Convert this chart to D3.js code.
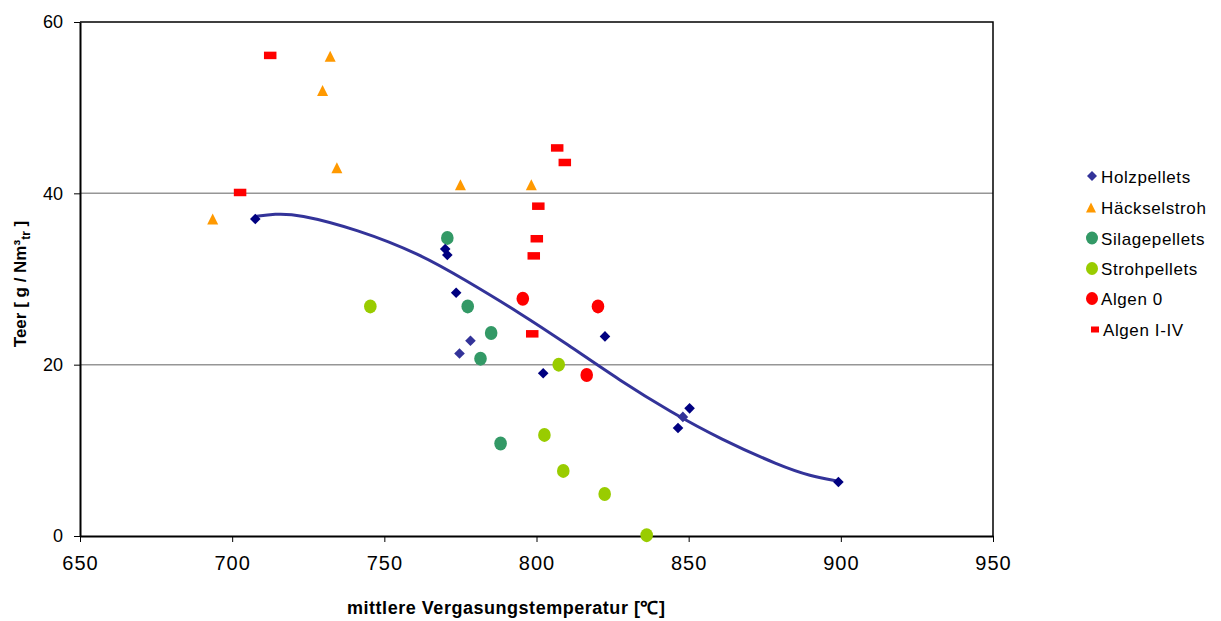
<!DOCTYPE html>
<html>
<head>
<meta charset="utf-8">
<script src="https://cdn.jsdelivr.net/npm/d3@7"></script>
<style>
  html, body { margin: 0; padding: 0; background: #fff; }
  svg { display: block; font-family: "Liberation Sans", Arial, sans-serif; }
</style>
</head>
<body>
<svg id="chart" width="1221" height="621"></svg>
<script>
// Mean gasification temperature [°C] vs. tar content [g/Nm³tr]
const holzpellets = [
  [707.6, 37.0], [770.0, 33.5], [770.7, 32.8], [773.6, 28.4],
  [802.2, 19.0], [822.5, 23.3], [850.3, 14.9], [846.5, 12.6], [899.2, 6.3]
];
const holzpelletsHell = [
  [778.3, 22.8], [774.7, 21.3], [848.1, 13.9]
];
const haeckselstroh = [
  [693.6, 37.0], [732.2, 56.0], [729.7, 52.0], [734.4, 43.0], [775.0, 41.0], [798.3, 41.0]
];
const silagepellets = [
  [770.7, 34.8], [777.4, 26.8], [785.1, 23.7], [781.6, 20.7], [788.2, 10.8]
];
const strohpellets = [
  [745.4, 26.8], [807.3, 20.0], [802.6, 11.8], [808.8, 7.6], [822.4, 4.9], [836.2, 0.1]
];
const algen0 = [
  [795.5, 27.7], [820.2, 26.8], [816.5, 18.8]
];
const algenIIV = [
  [712.5, 56.1], [702.6, 40.1], [806.8, 45.3], [809.3, 43.6], [800.6, 38.5],
  [800.1, 34.7], [799.1, 32.7], [798.6, 23.6]
];
// trendline (polynomial) for Holzpellets, sampled along its course
const trendHolz = [
  [707.6, 37.3], [714.0, 37.6], [721.4, 37.6], [741.1, 35.8], [761.8, 32.9], [776.0, 30.0],
  [794.7, 26.0], [810.0, 22.4], [827.6, 18.1], [844.0, 14.5], [860.5, 11.3],
  [880.0, 8.2], [890.0, 7.0], [899.0, 6.4]
];
const xTicks = [650, 700, 750, 800, 850, 900, 950];
const yTicks = [0, 20, 40, 60];
const legendNames = ["Holzpellets", "Häckselstroh", "Silagepellets", "Strohpellets", "Algen 0", "Algen I-IV"];

const svg = d3.select("#chart");
const x = d3.scaleLinear().domain([650, 950]).range([80, 993]);
const y = d3.scaleLinear().domain([0, 60]).range([536, 22]);

// gridlines
svg.append("g").selectAll("line").data([20, 40]).join("line")
  .attr("x1", x(650)).attr("x2", x(950))
  .attr("y1", d => y(d)).attr("y2", d => y(d))
  .attr("stroke", "#969696").attr("stroke-width", 1.5);

// plot frame (top and right)
svg.append("path")
  .attr("d", `M${x(650)},${y(60)}H${x(950)}V${y(0)}`)
  .attr("fill", "none").attr("stroke", "#000").attr("stroke-width", 1.5);

// axes
const xAxis = svg.append("g").attr("transform", `translate(0,${y(0)})`)
  .call(d3.axisBottom(x).tickValues(xTicks).tickSize(6).tickSizeOuter(0).tickPadding(14));
xAxis.select(".domain").attr("stroke-width", 2);
xAxis.selectAll(".tick line").attr("stroke", "#000").attr("stroke-width", 1);
xAxis.selectAll("text").attr("font-size", 20).attr("fill", "#000")
  .attr("font-family", "Liberation Sans, Arial, sans-serif").style("letter-spacing", "1px");

const yAxis = svg.append("g").attr("transform", `translate(${x(650)},0)`)
  .call(d3.axisLeft(y).tickValues(yTicks).tickSize(6).tickSizeOuter(0).tickPadding(11));
yAxis.select(".domain").attr("stroke-width", 2);
yAxis.selectAll(".tick line").attr("stroke", "#000").attr("stroke-width", 1);
yAxis.selectAll("text").attr("font-size", 18).attr("fill", "#000")
  .attr("font-family", "Liberation Sans, Arial, sans-serif");

// axis titles
svg.append("text").attr("x", 506).attr("y", 614).attr("text-anchor", "middle")
  .attr("font-size", 18).attr("font-weight", "bold").attr("textLength", 318)
  .text("mittlere Vergasungstemperatur [℃]");

const yt = svg.append("text").attr("transform", "translate(26,284) rotate(-90)")
  .attr("text-anchor", "middle").attr("font-size", 17).attr("font-weight", "bold");
yt.append("tspan").text("Teer [ g / Nm³");
yt.append("tspan").attr("font-size", 12).attr("dy", 4).text("tr");
yt.append("tspan").attr("dy", -4).text(" ]");

// trendline
svg.append("path").datum(trendHolz)
  .attr("d", d3.line().x(d => x(d[0])).y(d => y(d[1])).curve(d3.curveBasis))
  .attr("fill", "none").attr("stroke", "#333399").attr("stroke-width", 3);

// marker shapes
function diamond(g, cx, cy, r, color) {
  g.append("path").attr("d", `M${cx},${cy - r}L${cx + r},${cy}L${cx},${cy + r}L${cx - r},${cy}Z`).attr("fill", color);
}
function triangle(g, cx, cy, s, color) {
  const h = s;
  g.append("path").attr("d", `M${cx},${cy - h / 2}L${cx + s / 2},${cy + h / 2}L${cx - s / 2},${cy + h / 2}Z`).attr("fill", color);
}
function ellipse(g, cx, cy, rx, ry, color) {
  g.append("ellipse").attr("cx", cx).attr("cy", cy).attr("rx", rx).attr("ry", ry).attr("fill", color);
}
function rect(g, cx, cy, w, h, color) {
  g.append("rect").attr("x", cx - w / 2).attr("y", cy - h / 2).attr("width", w).attr("height", h).attr("fill", color);
}

const colors = {
  holz: "#000080", holzHell: "#333399", haeck: "#FF9900", silage: "#339966",
  stroh: "#99CC00", algen0: "#FF0000", algen: "#FF0000"
};

const marks = svg.append("g");
silagepellets.forEach(d => ellipse(marks, x(d[0]), y(d[1]), 6.3, 7, colors.silage));
strohpellets.forEach(d => ellipse(marks, x(d[0]), y(d[1]), 6.3, 7, colors.stroh));
algen0.forEach(d => ellipse(marks, x(d[0]), y(d[1]), 6.3, 7, colors.algen0));
algenIIV.forEach(d => rect(marks, x(d[0]), y(d[1]), 12.5, 7.5, colors.algen));
haeckselstroh.forEach(d => triangle(marks, x(d[0]), y(d[1]), 11, colors.haeck));
holzpellets.forEach(d => diamond(marks, x(d[0]), y(d[1]), 5.3, colors.holz));
holzpelletsHell.forEach(d => diamond(marks, x(d[0]), y(d[1]), 5.3, colors.holzHell));

// legend
const lg = svg.append("g");
const rowY = [176, 207.5, 238, 268.5, 298.5, 329.5];
legendNames.forEach((name, i) => {
  const cy = rowY[i];
  if (i === 0) diamond(lg, 1092, cy, 5, colors.holzHell);
  if (i === 1) triangle(lg, 1091, cy, 10, colors.haeck);
  if (i === 2) ellipse(lg, 1092, cy, 6, 6.5, colors.silage);
  if (i === 3) ellipse(lg, 1092, cy, 6, 6.5, colors.stroh);
  if (i === 4) ellipse(lg, 1092, cy, 6, 6.5, colors.algen0);
  if (i === 5) rect(lg, 1095, cy, 8, 6, colors.algen);
  lg.append("text").attr("x", i === 5 ? 1103 : 1101).attr("y", cy + 6.5)
    .attr("font-size", 17).style("letter-spacing", "0.6px").text(name);
});
</script>
</body>
</html>
